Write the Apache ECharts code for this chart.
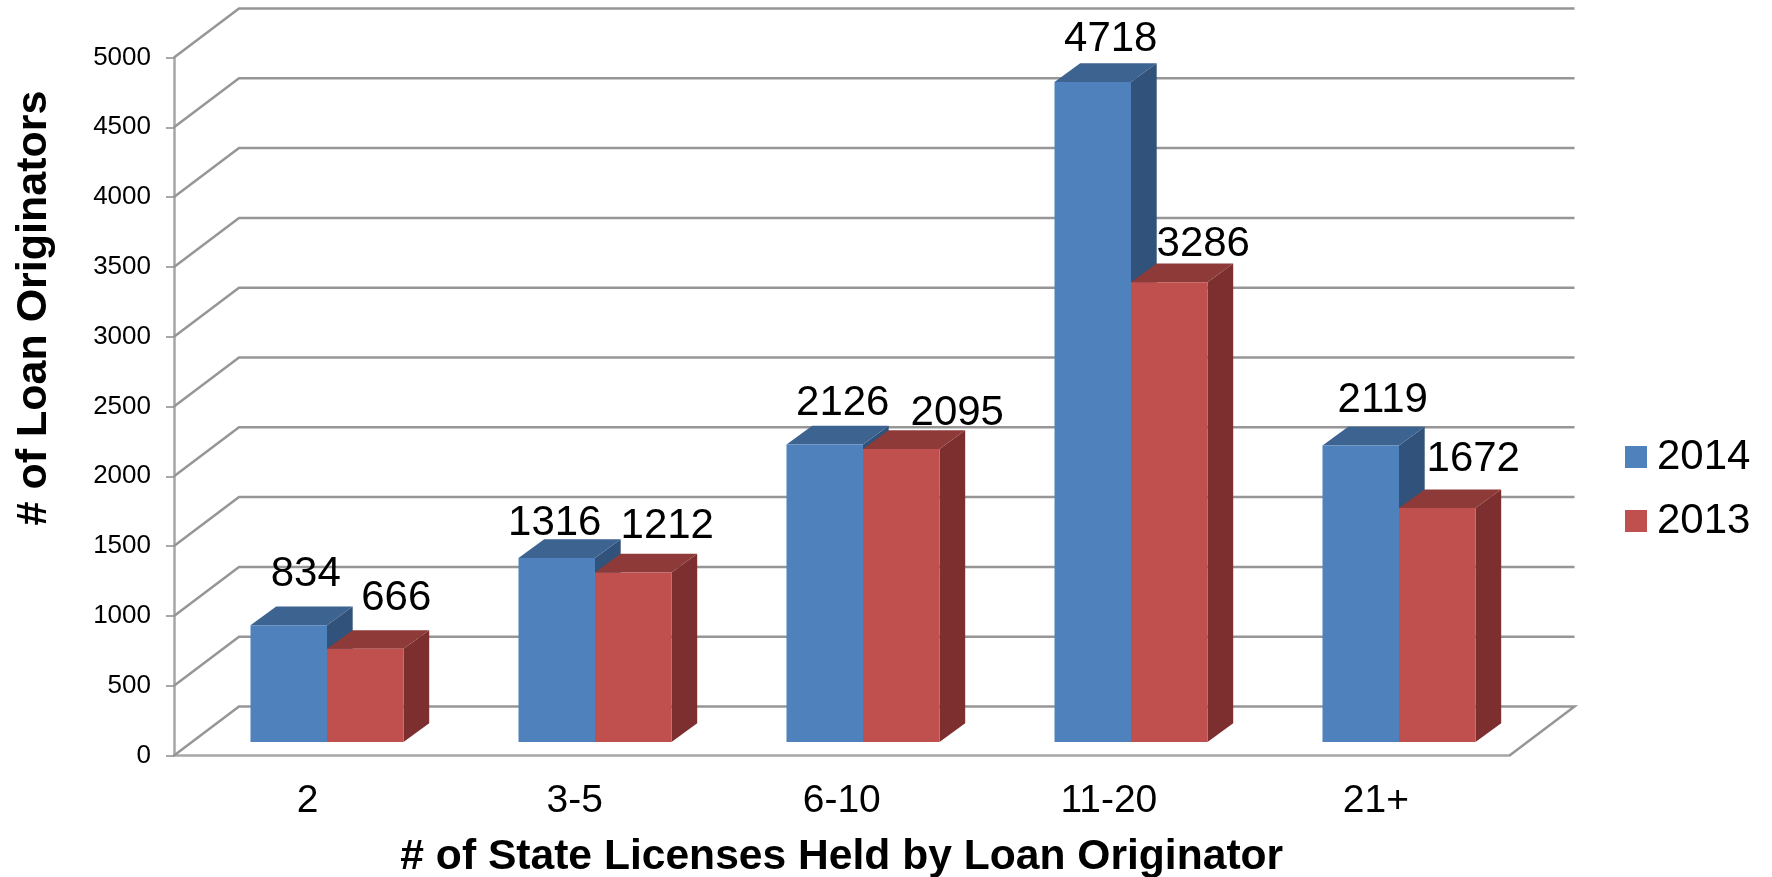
<!DOCTYPE html>
<html>
<head>
<meta charset="utf-8">
<title>Loan Originators by State Licenses</title>
<script src="https://cdn.jsdelivr.net/npm/echarts@6/dist/echarts.min.js"></script>
<style>
  html, body { margin: 0; padding: 0; background: #fff; }
  #main { width: 1772px; height: 877px; }
</style>
</head>
<body>
<div id="main"></div>
<script>
// data
var categories = ['2', '3-5', '6-10', '11-20', '21+'];
var values2014 = [834, 1316, 2126, 4718, 2119];
var values2013 = [666, 1212, 2095, 3286, 1672];
var yTicks = [0, 500, 1000, 1500, 2000, 2500, 3000, 3500, 4000, 4500, 5000];

// hand placed labels in the original, offset from the bar's front top centre
var nudge2014 = [[17, -51], [-2, -34], [18, -41], [18, -43], [22, -45]];
var nudge2013 = [[31, -50], [34, -46], [56, -35], [34, -38], [36, -49]];

var FONT = '"Liberation Sans", Arial, sans-serif';
var LINE = '#969696';
var WALL_DX = 65, WALL_DY = -49;
var BAR_W = 76.5, BAR_DX = 25.7, BAR_DY = -18.7;

// back wall + side wall gridlines, one polyline per tick
function renderWall(params, api) {
    var rect = params.coordSys;
    var y = api.coord([0, api.value(1)])[1];
    var x0 = rect.x, x1 = rect.x + rect.width;
    var pts = [[x0, y], [x0 + WALL_DX, y + WALL_DY], [x1 + WALL_DX, y + WALL_DY]];
    if (api.value(1) === 0) {
        pts.push([x1, y]);
    }
    return {
        type: 'polyline',
        shape: { points: pts },
        style: { stroke: LINE, lineWidth: 2.5, fill: null }
    };
}

// fake 3d column: side, top, front and the value label
function makeBar(seriesPos, front, top, side, nudge) {
    return function (params, api) {
        var i = api.value(0), v = api.value(1);
        var base = api.coord([i, 0]);
        var head = api.coord([i, v]);
        var xl = base[0] + seriesPos * BAR_W;
        var xr = xl + BAR_W;
        return {
            type: 'group',
            children: [
                {
                    type: 'polygon',
                    shape: { points: [[xr, head[1]], [xr + BAR_DX, head[1] + BAR_DY], [xr + BAR_DX, base[1] + BAR_DY], [xr, base[1]]] },
                    style: { fill: side }
                },
                {
                    type: 'polygon',
                    shape: { points: [[xl, head[1]], [xl + BAR_DX, head[1] + BAR_DY], [xr + BAR_DX, head[1] + BAR_DY], [xr, head[1]]] },
                    style: { fill: top }
                },
                {
                    type: 'rect',
                    shape: { x: xl, y: head[1], width: BAR_W, height: base[1] - head[1] },
                    style: { fill: front }
                },
                {
                    type: 'text',
                    z2: 10,
                    style: {
                        text: String(v),
                        x: xl + BAR_W / 2 + nudge[i][0],
                        y: head[1] + nudge[i][1],
                        align: 'center',
                        verticalAlign: 'middle',
                        fontSize: 42,
                        fontFamily: FONT,
                        fill: '#000'
                    }
                }
            ]
        };
    };
}

function toPairs(list) {
    return list.map(function (v, i) { return [i, v]; });
}

var chart = echarts.init(document.getElementById('main'));
chart.setOption({
    animation: false,
    backgroundColor: '#fff',
    textStyle: { fontFamily: FONT },
    legend: {
        data: ['2014', '2013'],
        orient: 'vertical',
        left: 1620,
        top: 431,
        itemWidth: 22,
        itemHeight: 22,
        itemGap: 22,
        selectedMode: false,
        icon: 'rect',
        textStyle: { fontSize: 42, color: '#000', fontFamily: FONT, padding: [0, 0, 0, 5] }
    },
    graphic: [{
        type: 'text',
        x: 34,
        y: 308,
        rotation: Math.PI / 2,
        style: {
            text: '# of Loan Originators',
            align: 'center',
            verticalAlign: 'middle',
            fontSize: 43,
            fontWeight: 'bold',
            fontFamily: FONT,
            fill: '#000'
        }
    }],
    grid: [
        { left: 174, top: 57.5, width: 1335.5, height: 698, outerBoundsMode: 'none' },
        { left: 193, top: 42.5, width: 1340, height: 699.5, outerBoundsMode: 'none' }
    ],
    xAxis: [
        {
            type: 'category',
            gridIndex: 0,
            data: categories,
            name: '# of State Licenses Held by Loan Originator',
            nameLocation: 'middle',
            nameGap: 80,
            nameTextStyle: { fontSize: 42.6, fontWeight: 'bold', color: '#000', fontFamily: FONT },
            axisLine: { lineStyle: { color: '#a6a6a6', width: 2.5 } },
            axisTick: { length: 11, lineStyle: { color: '#8c8c8c', width: 1.5 } },
            axisLabel: { fontSize: 39, color: '#000', margin: 26, fontFamily: FONT, interval: 0 },
            splitLine: { show: false }
        },
        { type: 'category', gridIndex: 1, data: categories, show: false }
    ],
    yAxis: [
        {
            type: 'value',
            gridIndex: 0,
            min: 0,
            max: 5000,
            interval: 500,
            axisLine: { show: true, lineStyle: { color: '#a6a6a6', width: 2.5 } },
            axisTick: { show: true, length: 8, lineStyle: { color: '#8c8c8c', width: 1.5 } },
            axisLabel: {
                fontSize: 26,
                color: '#000',
                margin: 23,
                fontFamily: FONT,
                formatter: function (v) { return String(v); }
            },
            splitLine: { show: false }
        },
        { type: 'value', gridIndex: 1, min: 0, max: 5000, interval: 500, show: false, splitLine: { show: false } }
    ],
    series: [
        {
            type: 'custom',
            name: 'wall',
            xAxisIndex: 0,
            yAxisIndex: 0,
            silent: true,
            z: 1,
            renderItem: renderWall,
            data: yTicks.map(function (v) { return [0, v]; })
        },
        {
            type: 'custom',
            name: '2014',
            xAxisIndex: 1,
            yAxisIndex: 1,
            z: 3,
            itemStyle: { color: '#4f81bd' },
            renderItem: makeBar(-1, '#4f81bd', '#3d6390', '#31527a', nudge2014),
            data: toPairs(values2014)
        },
        {
            type: 'custom',
            name: '2013',
            xAxisIndex: 1,
            yAxisIndex: 1,
            z: 4,
            itemStyle: { color: '#c0504d' },
            renderItem: makeBar(0, '#c0504d', '#8e3a38', '#7c2f2e', nudge2013),
            data: toPairs(values2013)
        }
    ]
});
</script>
</body>
</html>
